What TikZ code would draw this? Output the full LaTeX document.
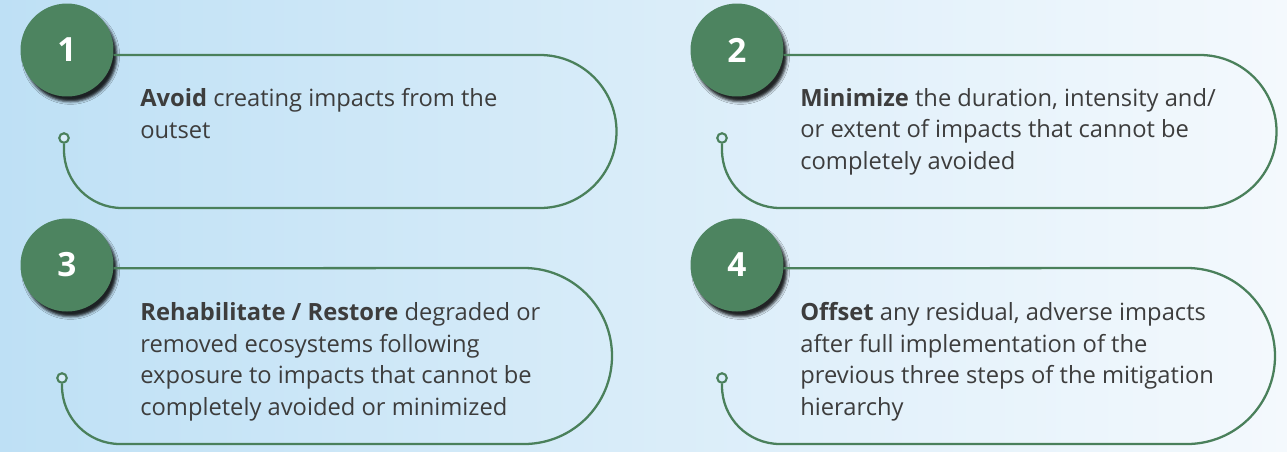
\documentclass[tikz,border=0pt]{standalone}
\usepackage{fontspec}
\setmainfont{Open Sans}
\usepackage{tikz}
\usetikzlibrary{positioning, shadows.blur}
\definecolor{BgLeft}{HTML}{BEE0F5}
\definecolor{BgRight}{HTML}{F4F9FD}
\definecolor{StepFill}{HTML}{4D8460}
\definecolor{StepLine}{HTML}{4A805B}
\definecolor{TextGray}{HTML}{3D3D3D}
\begin{document}
\begin{tikzpicture}[
  x=0.02cm, y=0.02cm,
  every node/.style={font=\fontsize{13.5}{17.9}\selectfont},
  stepcircle/.style={circle, minimum size=1.86cm, inner sep=0pt,
                     fill=StepFill, text=white,
                     font=\fontsize{19}{22}\selectfont\bfseries,
                     blur shadow={shadow xshift=2pt, shadow yshift=-3pt,
                                  shadow blur steps=3, shadow blur radius=1.5pt,
                                  shadow opacity=85}},
  stepdot/.style={circle, draw=StepLine, line width=1.2pt, fill=BgLeft!60!white,
                  minimum size=0.19cm, inner sep=0pt},
  stepline/.style={draw=StepLine, line width=1.3pt},
  steptext/.style={anchor=base west, align=left, text=TextGray, inner sep=0pt}
]

% background
\fill[left color=BgLeft, right color=BgRight] (0,0) rectangle (1287,-451);
\useasboundingbox (0,0) rectangle (1287,-451);

% step 1
\node[stepdot]    (d1) at (64,-138) {};
\node[stepcircle] (c1) at (67,-50) {1};
\draw[stepline] (c1.-6) -- (540,-55)
  arc[start angle=90, end angle=-90, radius=76.5] -- (122,-208)
  arc[start angle=270, end angle=180, radius=58] -- (d1.south);
\node[steptext] (t1) at (140,-138)
  {\textbf{Avoid} creating impacts from the\\outset};

% step 2
\node[stepdot]    (d2) at (722,-138) {};
\node[stepcircle] (c2) at (737,-50) {2};
\draw[stepline] (c2.-6) -- (1200,-55)
  arc[start angle=90, end angle=-90, radius=76.5] -- (780,-208)
  arc[start angle=270, end angle=180, radius=58] -- (d2.south);
\node[steptext] (t2) at (800,-169)
  {\textbf{Minimize} the duration, intensity and/\\or extent of impacts that cannot be\\completely avoided};

% step 3
\node[stepdot]    (d3) at (62,-378) {};
\node[stepcircle] (c3) at (67,-265) {3};
\draw[stepline] (c3.-4) -- (524,-268)
  arc[start angle=90, end angle=-90, radius=88] -- (120,-444)
  arc[start angle=270, end angle=180, radius=58] -- (d3.south);
\node[steptext] (t3) at (140,-415)
  {\textbf{Rehabilitate / Restore} degraded or\\removed ecosystems following\\exposure to impacts that cannot be\\completely avoided or minimized};

% step 4
\node[stepdot]    (d4) at (722,-378) {};
\node[stepcircle] (c4) at (737,-265) {4};
\draw[stepline] (c4.-4) -- (1187,-268)
  arc[start angle=90, end angle=-90, radius=88] -- (780,-444)
  arc[start angle=270, end angle=180, radius=58] -- (d4.south);
\node[steptext] (t4) at (800,-415)
  {\textbf{Offset} any residual, adverse impacts\\after full implementation of the\\previous three steps of the mitigation\\hierarchy};

\end{tikzpicture}
\end{document}
